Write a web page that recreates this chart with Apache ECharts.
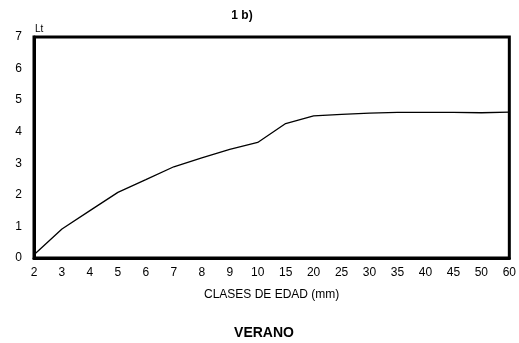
<!DOCTYPE html>
<html>
<head>
<meta charset="utf-8">
<script src="https://cdn.jsdelivr.net/npm/echarts@6/dist/echarts.min.js"></script>
<style>html,body{margin:0;padding:0;background:#fff}#c{width:519px;height:343px}</style>
</head>
<body>
<div id="c"></div>
<script>
const categories = ['2','3','4','5','6','7','8','9','10','15','20','25','30','35','40','45','50','60'];
const ltValues = [0.1, 0.92, 1.5, 2.08, 2.48, 2.89, 3.17, 3.44, 3.66, 4.26, 4.5, 4.55, 4.59, 4.61, 4.61, 4.61, 4.6, 4.62];
const yTicks = {min: 0, max: 7, interval: 1};

const chart = echarts.init(document.getElementById('c'), null, {renderer: 'canvas'});
const font = 'Liberation Sans, Arial, sans-serif';
chart.setOption({
  animation: false,
  backgroundColor: '#fff',
  title: [
    {text: '1 b)', left: 237, top: 5, textAlign: 'center',
     textStyle: {fontFamily: font, fontSize: 12, fontWeight: 'bold', color: '#000'}},
    {text: 'VERANO', left: 259, top: 321, textAlign: 'center',
     textStyle: {fontFamily: font, fontSize: 14, fontWeight: 'bold', color: '#000'}}
  ],
  graphic: [
    {type: 'text', left: 35, top: 24,
     style: {text: 'Lt', font: '10px ' + font, fill: '#000'}}
  ],
  grid: {left: 34, top: 37, right: 8, bottom: 85, show: true,
         borderColor: '#000', borderWidth: 3, backgroundColor: 'transparent'},
  xAxis: {
    type: 'category', data: categories, boundaryGap: false,
    name: 'CLASES DE EDAD (mm)', nameLocation: 'middle', nameGap: 31,
    nameTextStyle: {fontFamily: font, fontSize: 12, color: '#000'},
    axisLine: {show: true, lineStyle: {color: '#000', width: 3}},
    axisTick: {show: false},
    axisLabel: {fontFamily: font, fontSize: 12, color: '#000', margin: 9, interval: 0},
    splitLine: {show: false}
  },
  yAxis: {
    type: 'value', min: yTicks.min, max: yTicks.max, interval: yTicks.interval,
    axisLine: {show: true, lineStyle: {color: '#000', width: 3}},
    axisTick: {show: false},
    axisLabel: {fontFamily: font, fontSize: 12, color: '#000', margin: 12},
    splitLine: {show: false}
  },
  series: [{
    type: 'line', data: ltValues, showSymbol: false, symbol: 'none',
    lineStyle: {color: '#000', width: 1.3}
  }]
});
</script>
</body>
</html>
